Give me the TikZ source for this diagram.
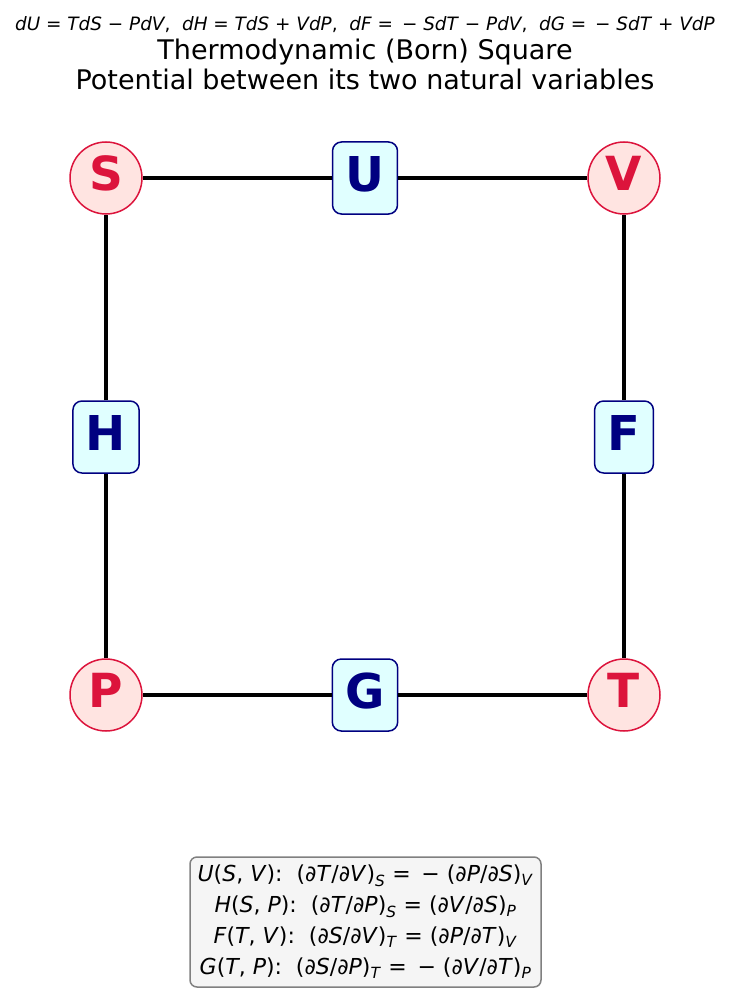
\documentclass[tikz,border=0pt]{standalone}
\usepackage{fontspec}
\setmainfont{DejaVu Sans}
\definecolor{crimsonc}{HTML}{DC143C}
\definecolor{mistyrosec}{HTML}{FFE4E1}
\definecolor{navyc}{HTML}{000080}
\definecolor{lightcyanc}{HTML}{E0FFFF}
\definecolor{whitesmokec}{HTML}{F5F5F5}
\definecolor{grayc}{HTML}{808080}
\newcommand\vr[1]{\textit{#1}}
\newcommand\sbs[1]{\textsubscript{\textit{#1}}}
\begin{document}
\begin{tikzpicture}[x=1pt,y=-1pt,
  corner/.style={circle, minimum size=72pt, inner sep=0pt, text depth=9pt, fill=mistyrosec, draw=crimsonc, line width=1.5pt, text=crimsonc, font=\fontsize{47}{56}\selectfont\bfseries},
  pot/.style={rectangle, rounded corners=9pt, minimum height=72pt, inner xsep=13pt, inner ysep=0pt, text depth=8pt, fill=lightcyanc, draw=navyc, line width=1.5pt, text=navyc, font=\fontsize{48}{56}\selectfont\bfseries},
  edge/.style={line width=3.5pt, black}]
\useasboundingbox (0,0) rectangle (730,995);
% header
\node (eqs) at (365,25) {\fontsize{18.4}{22}\selectfont \vr{dU} = \vr{TdS} − \vr{PdV},\ \ \vr{dH} = \vr{TdS} + \vr{VdP},\ \ \vr{dF} = \,− \vr{SdT} − \vr{PdV},\ \ \vr{dG} = \,− \vr{SdT} + \vr{VdP}};
\node[align=center, font=\fontsize{27}{29.5}\selectfont] (title) at (365,64.5) {Thermodynamic (Born) Square\\Potential between its two natural variables};
% nodes
\node[corner] (S) at (106,178) {S};
\node[corner] (V) at (624,178) {V};
\node[corner] (P) at (106,695) {P};
\node[corner] (T) at (624,695) {T};
\node[pot] (U) at (365,178) {U};
\node[pot] (H) at (106,437) {H};
\node[pot] (F) at (624,437) {F};
\node[pot] (G) at (365,695) {G};
% edges
\draw[edge] (S) -- (U);
\draw[edge] (U) -- (V);
\draw[edge] (V) -- (F);
\draw[edge] (F) -- (T);
\draw[edge] (T) -- (G);
\draw[edge] (G) -- (P);
\draw[edge] (P) -- (H);
\draw[edge] (H) -- (S);
% legend
\node[rectangle, rounded corners=7pt, fill=whitesmokec, draw=grayc, line width=1.5pt, minimum width=351pt, minimum height=130pt, align=center, inner sep=0pt, font=\fontsize{22}{31}\selectfont] (box) at (365.5,922) {%
\vr{U}(\vr{S}, \vr{V}):\ \ (∂\vr{T}/∂\vr{V})\sbs{S} = \,− (∂\vr{P}/∂\vr{S})\sbs{V}\\
\vr{H}(\vr{S}, \vr{P}):\ \ (∂\vr{T}/∂\vr{P})\sbs{S} = (∂\vr{V}/∂\vr{S})\sbs{P}\\
\vr{F}(\vr{T}, \vr{V}):\ \ (∂\vr{S}/∂\vr{V})\sbs{T} = (∂\vr{P}/∂\vr{T})\sbs{V}\\
\vr{G}(\vr{T}, \vr{P}):\ \ (∂\vr{S}/∂\vr{P})\sbs{T} = \,− (∂\vr{V}/∂\vr{T})\sbs{P}};
\end{tikzpicture}
\end{document}
